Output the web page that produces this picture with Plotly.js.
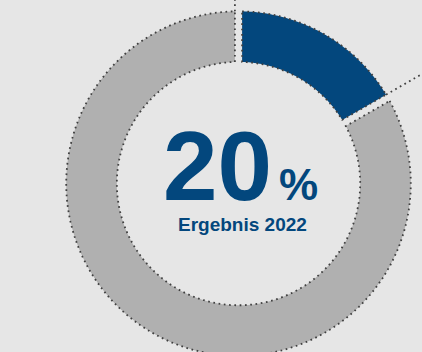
<!DOCTYPE html>
<html>
<head>
<meta charset="utf-8">
<script src="https://cdn.plot.ly/plotly-3.0.1.min.js"></script>
<style>
  html, body { margin: 0; padding: 0; background: #e6e6e6; overflow: hidden; }
  #wrap { position: relative; width: 422px; height: 352px; overflow: hidden; background: #e6e6e6; }
  #chart { position: absolute; left: 0; top: -32px; width: 454px; height: 432px; }
</style>
</head>
<body>
<div id="wrap"><div id="chart"></div></div>
<script>
// ---- data ----
const categories = ['Ergebnis 2022', 'Rest'];
const values = [16.7, 83.3];
const segmentColors = ['#03477d', '#b0b0b0'];
const bigNumber = '20';
const unitLabel = '%';
const subLabel = 'Ergebnis 2022';

// ---- geometry / style (radial units = px) ----
const W = 454, H = 432, OFFY = 32;
const R_OUT = 172.3, R_IN = 121.7, HALF_GAP = 3.6, R_MAX = 215;
const DOT = { color: '#404040', width: 1.8, dash: '1.7px,3.6px' };
const BLUE = '#03477d';

const total = values.reduce((a, b) => a + b, 0);
const deg = r => r * 180 / Math.PI;
const off = r => deg(Math.asin(HALF_GAP / r));

function arc(r, a1, a2, n) {
  const th = [], rr = [];
  for (let i = 0; i <= n; i++) { th.push(a1 + (a2 - a1) * i / n); rr.push(r); }
  return { r: rr, theta: th };
}

const traces = [];
let start = 0;
values.forEach((v, i) => {
  const end = start + v / total * 360;
  const outer = arc(R_OUT, start + off(R_OUT), end - off(R_OUT), 120);
  const inner = arc(R_IN, end - off(R_IN), start + off(R_IN), 120);
  const r = outer.r.concat(inner.r, [outer.r[0]]);
  const theta = outer.theta.concat(inner.theta, [outer.theta[0]]);
  traces.push({
    type: 'scatterpolar', mode: 'lines', r: r, theta: theta,
    fill: 'toself', fillcolor: segmentColors[i], name: categories[i],
    line: DOT, hoverinfo: 'skip'
  });
  // leader line continuing the segment's end edge outward
  const lr = [R_OUT, R_MAX];
  traces.push({
    type: 'scatterpolar', mode: 'lines', r: lr,
    theta: lr.map(x => end - off(x)), line: DOT, hoverinfo: 'skip'
  });
  start = end;
});

const px = x => x / W;
const py = y => 1 - (y + OFFY) / H;
const FONT = 'Liberation Sans, Arial, sans-serif';

const layout = {
  width: W, height: H,
  margin: { l: 0, r: 0, t: 0, b: 0, pad: 0 },
  paper_bgcolor: '#e6e6e6', plot_bgcolor: '#e6e6e6',
  showlegend: false,
  polar: {
    domain: { x: [23.5 / W, 453.5 / W], y: [1 - 430.6 / H, 1 - 0.6 / H] },
    bgcolor: 'rgba(0,0,0,0)',
    radialaxis: { visible: false, range: [0, R_MAX], showgrid: false, showline: false, ticks: '' },
    angularaxis: { visible: false, rotation: 90, direction: 'clockwise', showgrid: false, showline: false, ticks: '' }
  },
  annotations: [
    { text: '<b>' + bigNumber + '</b>', x: px(217.5), y: py(166), xref: 'paper', yref: 'paper',
      xanchor: 'center', yanchor: 'middle', showarrow: false,
      font: { family: FONT, size: 98, color: BLUE } },
    { text: '<b>' + unitLabel + '</b>', x: px(298), y: py(185), xref: 'paper', yref: 'paper',
      xanchor: 'center', yanchor: 'middle', showarrow: false,
      font: { family: FONT, size: 44, color: BLUE } },
    { text: '<b>' + subLabel + '</b>', x: px(242), y: py(224), xref: 'paper', yref: 'paper',
      xanchor: 'center', yanchor: 'middle', showarrow: false,
      font: { family: FONT, size: 19, color: BLUE } }
  ]
};

Plotly.newPlot('chart', traces, layout, { displayModeBar: false, staticPlot: true });
</script>
</body>
</html>
